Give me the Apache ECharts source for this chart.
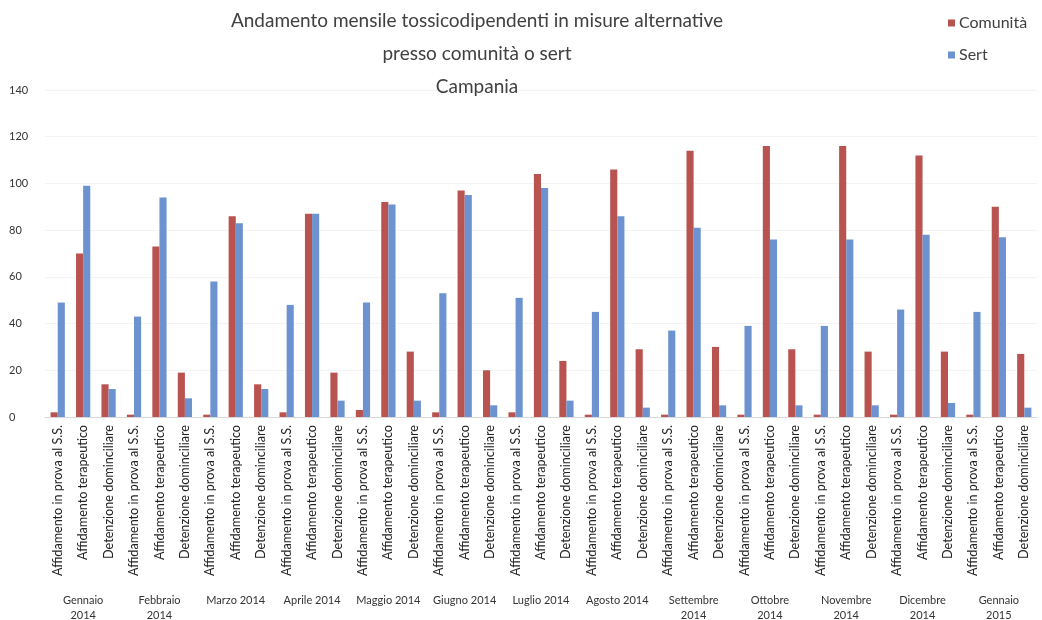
<!DOCTYPE html>
<html>
<head>
<meta charset="utf-8">
<script src="https://cdn.jsdelivr.net/npm/echarts@6/dist/echarts.min.js"></script>
<style>
  html, body { margin: 0; padding: 0; background: #fff; }
  #chart { width: 1042px; height: 620px; }
</style>
</head>
<body>
<div id="chart"></div>
<script>
// misure per ogni mese
var misure = ['Affidamento in prova al S.S.', 'Affidamento terapeutico', 'Detenzione dominciliare'];
var mesi = ['Gennaio\n2014', 'Febbraio\n2014', 'Marzo 2014', 'Aprile 2014', 'Maggio 2014', 'Giugno 2014',
	'Luglio 2014', 'Agosto 2014', 'Settembre\n2014', 'Ottobre\n2014', 'Novembre\n2014', 'Dicembre\n2014', 'Gennaio\n2015'];

// valori: per mese [prova, terapeutico, detenzione]
var comunita = [
	2, 70, 14,
	1, 73, 19,
	1, 86, 14,
	2, 87, 19,
	3, 92, 28,
	2, 97, 20,
	2, 104, 24,
	1, 106, 29,
	1, 114, 30,
	1, 116, 29,
	1, 116, 28,
	1, 112, 28,
	1, 90, 27
];
var sert = [
	49, 99, 12,
	43, 94, 8,
	58, 83, 12,
	48, 87, 7,
	49, 91, 7,
	53, 95, 5,
	51, 98, 7,
	45, 86, 4,
	37, 81, 5,
	39, 76, 5,
	39, 76, 5,
	46, 78, 6,
	45, 77, 4
];
var yTicks = [0, 20, 40, 60, 80, 100, 120, 140];

var categorie = [];
mesi.forEach(function() {
	misure.forEach(function(m) { categorie.push(m); });
});

var font = 'Lato, "Open Sans", sans-serif';
var myChart = echarts.init(document.getElementById('chart'));
var option = {
	animation: false,
	backgroundColor: '#fff',
	title: {
		text: 'Andamento mensile tossicodipendenti in misure alternative\npresso comunità o sert\nCampania',
		left: 472,
		textAlign: 'center',
		top: -1,
		textStyle: {
			fontFamily: font,
			fontSize: 19,
			fontWeight: 'normal',
			color: '#404040',
			lineHeight: 33
		}
	},
	legend: {
		orient: 'vertical',
		left: 943,
		top: 10,
		itemGap: 16,
		itemWidth: 7,
		itemHeight: 7,
		icon: 'rect',
		textStyle: { fontFamily: font, fontSize: 16, color: '#404040', padding: [0, 0, 0, -1] },
		data: ['Comunità', 'Sert']
	},
	grid: {
		left: 45,
		right: 5,
		top: 90,
		bottom: 203,
		outerBoundsMode: 'none'
	},
	xAxis: [{
		type: 'category',
		data: categorie,
		axisLine: { lineStyle: { color: '#d9d9d9' } },
		axisTick: { show: false },
		axisLabel: {
			interval: 0,
			rotate: 90,
			margin: 8,
			fontFamily: font,
			fontSize: 12.6,
			color: '#222'
		}
	}, {
		type: 'category',
		data: mesi,
		position: 'bottom',
		offset: 168,
		axisLine: { show: false },
		axisTick: { show: false },
		axisLabel: {
			interval: 0,
			fontFamily: font,
			fontSize: 11,
			lineHeight: 15,
			color: '#333'
		}
	}],
	yAxis: {
		type: 'value',
		min: 0,
		max: yTicks[yTicks.length - 1],
		interval: 20,
		axisLine: { show: false },
		axisTick: { show: false },
		splitLine: { lineStyle: { color: '#f3f3f3' } },
		axisLabel: {
			fontFamily: font,
			fontSize: 11,
			color: '#333',
			align: 'left',
			margin: 36
		}
	},
	series: [{
		name: 'Comunità',
		type: 'bar',
		data: comunita,
		barGap: '0%',
		barCategoryGap: '44%',
		itemStyle: { color: '#b95350' }
	}, {
		name: 'Sert',
		type: 'bar',
		data: sert,
		itemStyle: { color: '#6c93cf' }
	}]
};
myChart.setOption(option);
</script>
</body>
</html>
